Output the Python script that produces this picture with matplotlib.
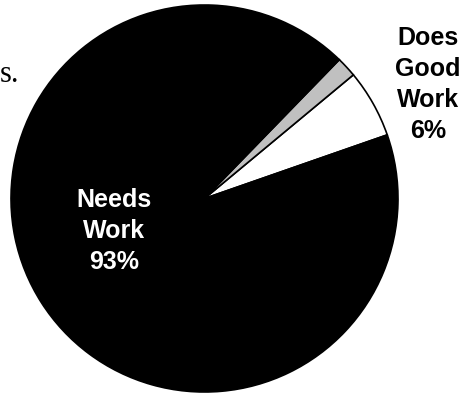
import matplotlib
matplotlib.use("Agg")
import matplotlib.pyplot as plt

# Survey breakdown
labels = ["Does\nGood\nWork", "", "Needs\nWork"]
shares = [5.7, 1.7, 92.6]
colors = ["white", "#c0c0c0", "black"]

W, H = 464, 393
fig = plt.figure(figsize=(W / 100, H / 100), dpi=100)
ax = fig.add_axes([0, 0, 1, 1])

ax.pie(
    shares,
    colors=colors,
    startangle=19.2,
    counterclock=True,
    center=(204.5, H - 198.5),
    radius=193.5,
    wedgeprops=dict(edgecolor="black", linewidth=1.2),
    frame=True,
)
ax.set_xlim(0, W)
ax.set_ylim(0, H)
ax.set_aspect("equal")
ax.axis("off")

font = dict(family="Liberation Sans", fontweight="bold", fontsize=18,
            ha="center", va="center", linespacing=1.37)

ax.text(114, H - 231, f"{labels[2]}\n{shares[2]:.0f}%", color="white", **font)
ax.text(428, H - 84.5, f"{labels[0]}\n{shares[0]:.0f}%", color="black", **font)

# tail end of the caption running off the left edge
ax.text(0, H - 82, "s.", family="Liberation Serif", fontsize=22,
        ha="left", va="baseline", color="black")

fig.savefig("out.png", dpi=100)
